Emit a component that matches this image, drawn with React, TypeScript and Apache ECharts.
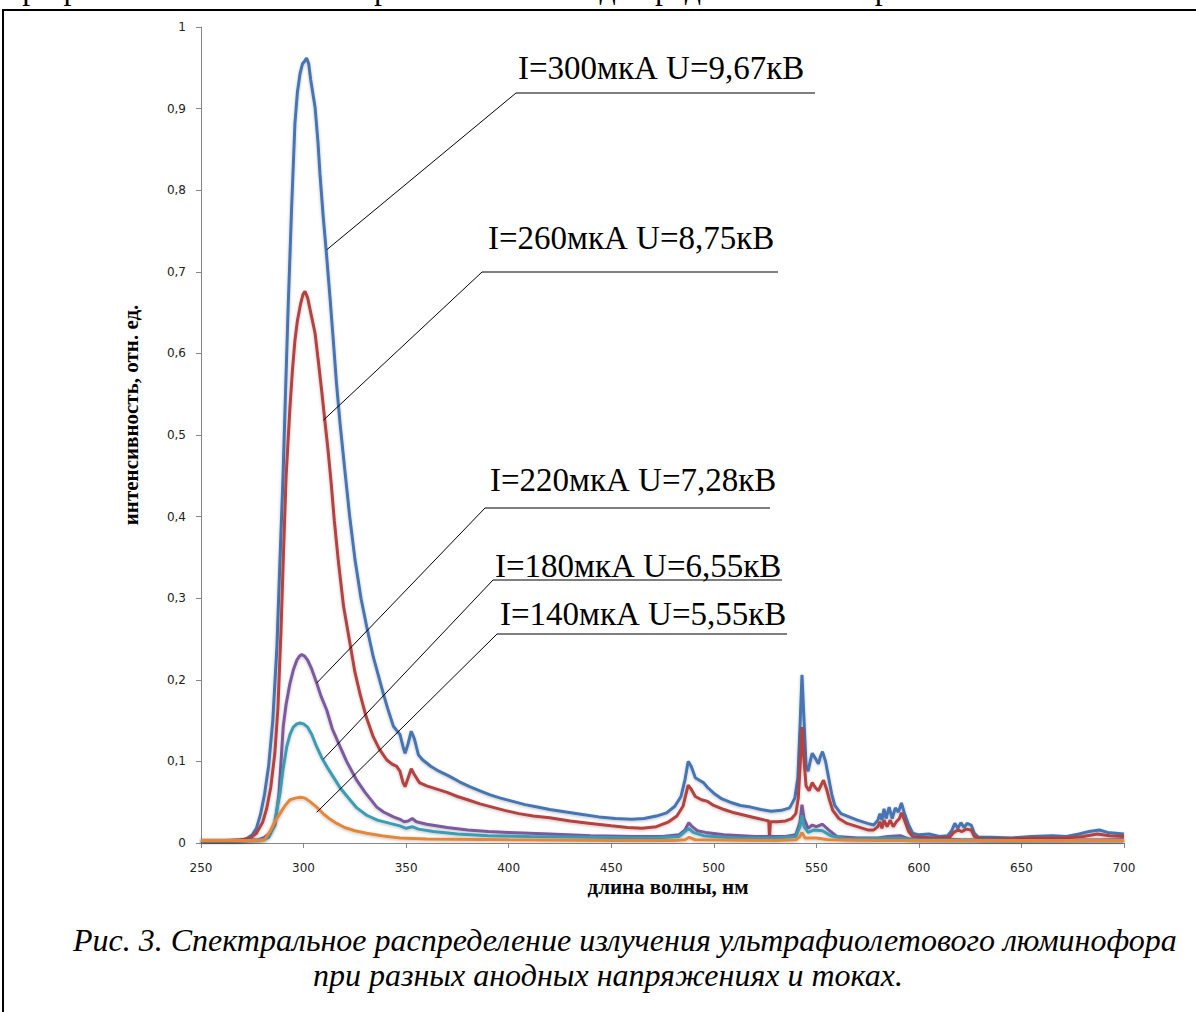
import { useEffect, useRef } from "react";
import * as echarts from "echarts";

type P = [number, number];

const seriesNames = [
  "I=300мкА U=9,67кВ",
  "I=260мкА U=8,75кВ",
  "I=220мкА U=7,28кВ",
  "I=180мкА U=6,55кВ",
  "I=140мкА U=5,55кВ",
];
const seriesColors = ["#4675B4", "#B5423F", "#7B5A9E", "#3A9CB4", "#E5873A"];

const xTicks = [250, 300, 350, 400, 450, 500, 550, 600, 650, 700];

const s300: P[] = [
  [250, 0.003], [260, 0.003], [268, 0.003], [272, 0.005], [275, 0.010], [277, 0.018], [279, 0.035],
  [281, 0.060], [283, 0.095], [285, 0.150], [287, 0.240], [288.5, 0.347], [290, 0.450], [291, 0.535],
  [292.5, 0.657], [294.2, 0.780], [295.8, 0.882], [297, 0.920], [298.3, 0.943], [299.5, 0.955],
  [300.5, 0.958], [301.5, 0.962], [302.5, 0.955], [303.5, 0.935], [305.6, 0.902], [307, 0.860],
  [308, 0.820], [309.5, 0.770], [311.3, 0.718], [313, 0.665], [314.5, 0.616], [316, 0.565],
  [317.8, 0.514], [320, 0.460], [322.5, 0.400], [325.1, 0.347], [328, 0.300], [330.8, 0.265],
  [334, 0.228], [336.5, 0.205], [338.9, 0.183], [341, 0.165], [343.8, 0.143], [345.4, 0.138],
  [347, 0.133], [348.5, 0.118], [349.5, 0.110], [351, 0.122], [352.5, 0.137], [354, 0.128],
  [356, 0.108], [358, 0.102], [362, 0.094], [366, 0.088], [371, 0.082], [376, 0.075], [381, 0.069],
  [386, 0.064], [391, 0.059], [396, 0.055], [402, 0.051], [408, 0.047], [414, 0.044], [420, 0.041],
  [428, 0.038], [436, 0.035], [444, 0.032], [452, 0.030], [460, 0.029], [466, 0.030], [472, 0.033],
  [477, 0.037], [481, 0.045], [484, 0.057], [486, 0.078], [487.5, 0.100], [489, 0.094], [491, 0.080],
  [493, 0.077], [495, 0.074], [497, 0.068], [500, 0.061], [504, 0.054], [508, 0.050], [513, 0.046],
  [518, 0.044], [523, 0.041], [528, 0.039], [533, 0.040], [537, 0.043], [539.5, 0.055], [541, 0.080],
  [542, 0.140], [543, 0.206], [544, 0.150], [545, 0.095], [546, 0.088], [547, 0.100], [548, 0.110],
  [549.5, 0.104], [551, 0.097], [552, 0.106], [553, 0.112], [554.5, 0.100], [556, 0.080], [557.5, 0.060],
  [559, 0.046], [562, 0.036], [566, 0.032], [570, 0.028], [575, 0.024], [578, 0.022], [580, 0.028],
  [581, 0.036], [582, 0.028], [583, 0.042], [584, 0.030], [585.5, 0.044], [587, 0.030], [588.5, 0.043],
  [590, 0.038], [591.5, 0.049], [593, 0.036], [595, 0.022], [597, 0.012], [600, 0.010], [605, 0.011],
  [610, 0.008], [614, 0.009], [616, 0.015], [617.5, 0.024], [619, 0.018], [620.5, 0.025], [622, 0.019],
  [623.5, 0.024], [625.5, 0.022], [627, 0.012], [629, 0.007], [635, 0.007], [645, 0.006], [655, 0.008],
  [665, 0.009], [672, 0.008], [678, 0.011], [683, 0.014], [688, 0.016], [692, 0.013], [696, 0.012],
  [700, 0.011],
];

const s260: P[] = [
  [250, 0.003], [262, 0.003], [270, 0.004], [274, 0.006], [277, 0.012], [280, 0.025], [282, 0.042],
  [284, 0.068], [286, 0.110], [287.5, 0.165], [289, 0.260], [290.1, 0.347], [291.5, 0.450],
  [293.4, 0.535], [294.6, 0.580], [295.8, 0.616], [297, 0.640], [298.5, 0.660], [299.7, 0.672],
  [300.7, 0.676], [302, 0.668], [303.5, 0.650], [305.6, 0.625], [307, 0.595], [308.8, 0.555],
  [310.5, 0.515], [312, 0.480], [313.5, 0.440], [315, 0.395], [316.9, 0.347], [319.5, 0.290],
  [322.6, 0.245], [325, 0.210], [327.5, 0.183], [330.5, 0.155], [334, 0.130], [337, 0.115],
  [340.5, 0.102], [343, 0.097], [345.4, 0.094], [347, 0.088], [348.5, 0.074], [349.5, 0.069],
  [351, 0.080], [352.5, 0.091], [354, 0.084], [356.5, 0.074], [360, 0.070], [365, 0.066], [370, 0.062],
  [375, 0.057], [380, 0.053], [386, 0.048], [392, 0.044], [398, 0.040], [405, 0.036], [412, 0.033],
  [420, 0.031], [430, 0.027], [440, 0.024], [450, 0.021], [458, 0.019], [465, 0.018], [472, 0.020],
  [478, 0.026], [482, 0.033], [485, 0.045], [487.5, 0.071], [489, 0.066], [491, 0.057], [494, 0.053],
  [497, 0.051], [500, 0.046], [505, 0.041], [510, 0.037], [515, 0.034], [520, 0.031], [525, 0.028],
  [526.8, 0.027], [527.2, 0.006], [527.6, 0.026], [531, 0.026], [535, 0.027], [538, 0.030], [540, 0.036],
  [541.2, 0.055], [542.2, 0.100], [543, 0.142], [543.8, 0.108], [545, 0.070], [546.5, 0.064],
  [548, 0.074], [549.5, 0.068], [551, 0.064], [552.5, 0.072], [553.5, 0.077], [555, 0.066],
  [556.5, 0.052], [558, 0.040], [561, 0.030], [565, 0.024], [570, 0.020], [575, 0.016], [578, 0.016],
  [580, 0.020], [581, 0.026], [582, 0.018], [583, 0.028], [584.5, 0.020], [586, 0.028], [587.5, 0.020],
  [589, 0.026], [590.5, 0.030], [591.5, 0.037], [593, 0.028], [595, 0.014], [597, 0.008], [600, 0.007],
  [610, 0.006], [615, 0.007], [617, 0.013], [619, 0.016], [621, 0.014], [623, 0.017], [625.5, 0.016],
  [627, 0.008], [630, 0.005], [640, 0.005], [655, 0.006], [670, 0.006], [680, 0.008], [687, 0.011],
  [693, 0.009], [700, 0.008],
];

const s220: P[] = [
  [250, 0.003], [270, 0.003], [278, 0.004], [281, 0.007], [283.5, 0.012], [286, 0.022], [288, 0.060],
  [290.1, 0.143], [291.5, 0.170], [293.4, 0.196], [295, 0.212], [296.7, 0.224], [298, 0.229],
  [299.1, 0.231], [300.5, 0.229], [302, 0.224], [304, 0.213], [306.4, 0.196], [308.5, 0.180],
  [311.3, 0.163], [314, 0.140], [317.8, 0.118], [321, 0.100], [325.9, 0.077], [330, 0.062],
  [335.7, 0.044], [339, 0.038], [343.8, 0.032], [347, 0.029], [349, 0.026], [351, 0.027], [353, 0.030],
  [355, 0.026], [360, 0.023], [370, 0.019], [380, 0.016], [390, 0.014], [400, 0.013], [420, 0.011],
  [440, 0.009], [460, 0.008], [475, 0.008], [483, 0.010], [486, 0.016], [487.8, 0.025], [489.5, 0.020],
  [492, 0.015], [496, 0.013], [505, 0.010], [520, 0.008], [535, 0.008], [540, 0.010], [542, 0.025],
  [543, 0.047], [544, 0.030], [546, 0.018], [548, 0.022], [550, 0.020], [553, 0.023], [556, 0.016],
  [560, 0.008], [570, 0.006], [580, 0.006], [585, 0.008], [591, 0.009], [595, 0.005], [620, 0.004],
  [650, 0.003], [700, 0.004],
];

const s180: P[] = [
  [250, 0.003], [272, 0.003], [280, 0.004], [283, 0.007], [285.5, 0.020], [288.5, 0.061], [290, 0.090],
  [291.8, 0.118], [293.4, 0.133], [295, 0.142], [296.7, 0.146], [298.3, 0.147], [300, 0.146],
  [302, 0.142], [304, 0.133], [306.4, 0.118], [309, 0.104], [311.5, 0.093], [314.5, 0.081], [318, 0.067],
  [322.6, 0.053], [326, 0.043], [330.8, 0.034], [336, 0.028], [342.2, 0.024], [347, 0.021], [350, 0.018],
  [353, 0.020], [356, 0.017], [363.3, 0.014], [375, 0.011], [390, 0.009], [410, 0.008], [440, 0.007],
  [470, 0.006], [483, 0.008], [487.8, 0.018], [490, 0.013], [495, 0.009], [510, 0.006], [530, 0.006],
  [540, 0.008], [542, 0.020], [543, 0.034], [544, 0.020], [546, 0.013], [549, 0.016], [553, 0.015],
  [557, 0.009], [565, 0.005], [590, 0.006], [600, 0.004], [650, 0.003], [700, 0.003],
];

const s140: P[] = [
  [250, 0.003], [275, 0.003], [281, 0.004], [283.6, 0.014], [286, 0.026], [288.5, 0.036], [291, 0.046],
  [293.4, 0.053], [296, 0.055], [298.5, 0.056], [300.7, 0.055], [303, 0.051], [306.4, 0.044], [310, 0.035],
  [313, 0.029], [316.2, 0.024], [320, 0.019], [325, 0.015], [330.8, 0.012], [338, 0.009], [347, 0.006],
  [360, 0.005], [400, 0.004], [450, 0.003], [480, 0.003], [486, 0.004], [488, 0.007], [491, 0.004],
  [530, 0.003], [540, 0.004], [542, 0.008], [543, 0.013], [544.5, 0.006], [550, 0.006], [556, 0.004],
  [580, 0.003], [700, 0.003],
];

const seriesData = [s300, s260, s220, s180, s140];

// leader-line anchor points on each curve (data coords)
const anchors: P[] = [
  [311.3, 0.727],
  [309.6, 0.518],
  [306.4, 0.196],
  [309.6, 0.1026],
  [306.4, 0.0376],
];

// label layout (pixels): text left, text centre y, underline start x, underline y, underline end x
const labelLayout = [
  [518, 68, 516, 93, 815],
  [488, 238, 482, 272, 778],
  [490, 480, 485, 508, 770],
  [495, 566, 493, 580, 782],
  [500, 614, 497, 634, 787],
];

const captionLines = [
  "Рис. 3. Спектральное распределение излучения ультрафиолетового люминофора",
  "при разных анодных напряжениях и токах.",
];
const topText = "при различных токах и напряжениях на аноде представлены на рис. 3.";

export default function App() {
  const ref = useRef<HTMLDivElement>(null);
  useEffect(() => {
    document.body.style.margin = "0";
    const chart = echarts.init(ref.current!, null, { renderer: "svg" });
    const axisGray = "#868686";
    chart.setOption({
      animation: false,
      backgroundColor: "#ffffff",
      grid: { left: 201, right: 72, top: 27, bottom: 169, containLabel: false },
      xAxis: {
        type: "value",
        min: 250,
        max: 700,
        interval: 50,
        axisLine: { show: true, onZero: false, lineStyle: { color: axisGray, width: 1 } },
        axisTick: { show: true, inside: false, length: 5, lineStyle: { color: axisGray } },
        splitLine: { show: false },
        axisLabel: {
          margin: 19,
          fontSize: 12,
          fontFamily: "DejaVu Sans",
          color: "#222",
          formatter: (v: number) => (xTicks.includes(v) ? String(v) : ""),
        },
      },
      yAxis: {
        type: "value",
        min: 0,
        max: 1,
        interval: 0.1,
        axisLine: { show: true, lineStyle: { color: axisGray, width: 1 } },
        axisTick: { show: true, inside: false, length: 5, lineStyle: { color: axisGray } },
        splitLine: { show: false },
        axisLabel: {
          margin: 15,
          fontSize: 12,
          fontFamily: "DejaVu Sans",
          color: "#222",
          formatter: (v: number) => String(Math.round(v * 10) / 10).replace(".", ","),
        },
      },
      series: seriesData.map((d, i) => ({
        type: "line",
        name: seriesNames[i],
        data: d,
        showSymbol: false,
        symbol: "none",
        smooth: false,
        lineStyle: {
          color: seriesColors[i],
          width: 3,
          shadowColor: "rgba(0,0,0,0.25)",
          shadowBlur: 3,
          shadowOffsetY: 1,
        },
        z: 2 + i,
      })),
    });

    const g: any[] = [];
    g.push({
      type: "rect",
      shape: { x: 3, y: 10, width: 1400, height: 1200 },
      style: { fill: "none", stroke: "#000", lineWidth: 2 },
      silent: true,
    });
    g.push({
      type: "text",
      x: 962,
      y: -12,
      style: {
        text: topText,
        fontFamily: "Liberation Serif",
        fontSize: 32,
        fill: "#000",
        align: "right",
        verticalAlign: "middle",
      },
    });
    seriesNames.forEach((name, i) => {
      const [tx, ty, ux, uy, ue] = labelLayout[i];
      const p = chart.convertToPixel({ gridIndex: 0 }, anchors[i]) as number[];
      g.push({
        type: "text",
        x: tx,
        y: ty,
        style: {
          text: name,
          fontFamily: "Liberation Serif",
          fontSize: 33,
          fill: "#000",
          align: "left",
          verticalAlign: "middle",
        },
        z: 20,
      });
      g.push({
        type: "line",
        shape: { x1: ux, y1: uy, x2: ue, y2: uy },
        style: { stroke: "#000", lineWidth: 1.2 },
        z: 20,
      });
      g.push({
        type: "line",
        shape: { x1: ux, y1: uy, x2: p[0], y2: p[1] },
        style: { stroke: "#000", lineWidth: 1 },
        z: 20,
      });
    });
    g.push({
      type: "text",
      x: 131,
      y: 415,
      rotation: Math.PI / 2,
      style: {
        text: "интенсивность, отн. ед.",
        fontFamily: "Liberation Serif",
        fontWeight: "bold",
        fontSize: 21,
        fill: "#000",
        align: "center",
        verticalAlign: "middle",
      },
    });
    g.push({
      type: "text",
      x: 668,
      y: 887,
      style: {
        text: "длина волны, нм",
        fontFamily: "Liberation Serif",
        fontWeight: "bold",
        fontSize: 21,
        fill: "#000",
        align: "center",
        verticalAlign: "middle",
      },
    });
    g.push({
      type: "text",
      x: 73,
      y: 940,
      style: {
        text: captionLines[0],
        fontFamily: "Liberation Serif",
        fontStyle: "italic",
        fontSize: 32,
        fill: "#000",
        align: "left",
        verticalAlign: "middle",
      },
    });
    g.push({
      type: "text",
      x: 313,
      y: 975,
      style: {
        text: captionLines[1],
        fontFamily: "Liberation Serif",
        fontStyle: "italic",
        fontSize: 32,
        fill: "#000",
        align: "left",
        verticalAlign: "middle",
      },
    });
    chart.setOption({ graphic: g });
    return () => chart.dispose();
  }, []);
  return (
    <div
      ref={ref}
      style={{ position: "absolute", left: 0, top: 0, width: 1196, height: 1012, background: "#fff" }}
    />
  );
}
